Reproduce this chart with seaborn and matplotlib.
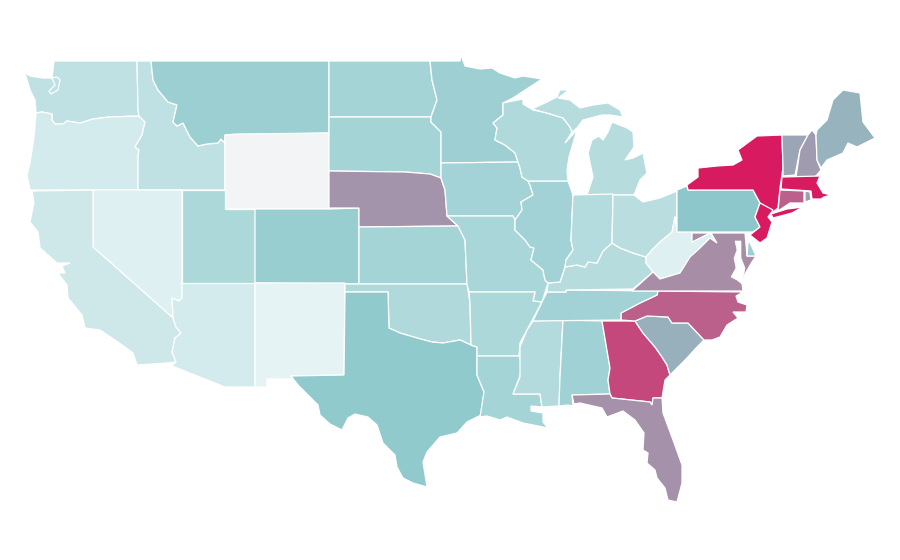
import matplotlib
matplotlib.use("Agg")
import matplotlib.pyplot as plt
from matplotlib.colors import Normalize
from matplotlib.patches import Polygon
import seaborn as sns

# state outlines, x/y in image pixels
WA = [(54,61),(137,61),(138,110),(139,116),(109,117),(93,119),(80,123),(67,121),(63,124),(55,124),(52,120),(52,114),(42,112),(36,113),(35,100),(30,90),(25,73),(30,76),(43,78),(52,78),(57,77),(60,80),(58,90),(51,94),(49,91),(55,85),(52,78)]
OR = [(36,113),(42,112),(52,114),(52,120),(55,124),(63,124),(67,121),(80,123),(93,119),(109,117),(139,116),(145,122),(142,135),(135,147),(139,150),(138,157),(138,190),(30,190),(27,175),(30,163),(34,137)]
ID = [(137,61),(151,61),(153,80),(158,90),(168,102),(177,105),(173,122),(177,126),(183,123),(190,137),(198,146),(207,144),(218,143),(221,139),(225,143),(225,190),(138,190),(138,157),(139,150),(135,147),(142,135),(145,122),(139,116),(138,110)]
MT = [(151,61),(329,61),(329,133),(236,135),(225,135),(225,143),(221,139),(218,143),(207,144),(198,146),(190,137),(183,123),(177,126),(173,122),(177,105),(168,102),(158,90),(153,80)]
WY = [(225,135),(236,134),(329,133),(329,209),(225,209)]
NV = [(93,190),(182,190),(182,298),(179,301),(172,298),(173,318),(93,247)]
CA = [(32,191),(93,190),(93,247),(173,318),(176,327),(181,333),(175,338),(172,352),(176,362),(167,363),(137,365),(133,353),(118,342),(100,330),(85,328),(82,315),(68,298),(67,285),(58,273),(65,273),(62,266),(70,263),(57,263),(40,248),(38,232),(30,222),(34,203)]
AZ = [(182,283),(255,283),(255,387),(225,387),(172,366),(176,362),(172,352),(175,338),(181,333),(176,327),(173,318),(172,298),(179,301),(182,298)]
UT = [(182,190),(225,190),(225,209),(255,209),(255,283),(182,283)]
CO = [(255,209),(329,209),(359,208),(359,284),(255,283)]
NM = [(255,283),(345,283),(344,375),(291,376),(293,379),(267,379),(267,387),(255,387)]
ND = [(329,61),(430,61),(432,80),(437,100),(431,117),(329,117)]
SD = [(329,117),(431,117),(431,122),(441,132),(441,178),(430,174),(405,172),(329,171)]
NE = [(329,171),(405,172),(430,174),(441,178),(445,190),(447,216),(458,226),(359,227),(359,208),(329,208)]
KS = [(359,227),(458,226),(465,240),(467,284),(359,284)]
OK = [(345,284),(467,284),(470,303),(471,345),(460,340),(443,343),(432,342),(417,338),(400,333),(389,328),(388,292),(345,292)]
TX = [(345,292),(388,292),(389,328),(400,333),(417,338),(432,342),(443,343),(460,340),(471,345),(477,347),(477,375),(484,392),(481,415),(467,422),(457,433),(440,437),(427,452),(423,462),(427,487),(413,483),(403,478),(397,467),(395,455),(383,443),(377,425),(368,417),(355,414),(348,418),(342,430),(330,424),(320,415),(318,405),(308,395),(298,385),(291,376),(344,375)]
MN = [(430,61),(460,61),(461,55),(465,66),(480,69),(492,68),(500,73),(515,78),(523,76),(542,79),(513,98),(503,103),(503,115),(493,123),(497,128),(495,140),(505,145),(515,153),(518,162),(441,163),(441,132),(431,122),(431,117),(437,100),(432,80)]
IA = [(441,163),(518,162),(520,168),(522,177),(528,181),(530,185),(533,195),(521,202),(522,210),(515,220),(513,216),(447,216),(445,190),(441,178)]
MO = [(447,216),(513,216),(515,220),(515,230),(525,240),(530,247),(534,248),(531,260),(543,270),(545,280),(548,283),(542,302),(533,301),(535,292),(469,292),(467,284),(465,240),(458,226)]
AR = [(469,292),(535,292),(533,301),(542,302),(535,315),(527,330),(520,343),(519,356),(477,356),(477,347),(471,345),(470,303)]
LA = [(477,356),(519,356),(523,368),(513,394),(540,394),(542,407),(531,406),(531,411),(543,413),(543,422),(548,428),(533,425),(523,423),(507,417),(500,420),(487,416),(480,417),(484,392),(477,375)]
MS = [(533,321),(563,320),(560,377),(559,406),(542,407),(540,394),(513,394),(520,377),(520,347),(527,330)]
AL = [(563,320),(602,321),(610,368),(608,380),(610,394),(572,395),(573,406),(568,405),(559,406),(560,377)]
GA = [(602,321),(635,321),(643,333),(655,347),(662,357),(667,365),(670,375),(665,380),(662,398),(653,398),(652,405),(650,402),(612,398),(610,394),(608,380),(610,368)]
FL = [(572,395),(610,394),(612,398),(650,402),(652,405),(653,398),(662,398),(663,413),(673,440),(682,465),(682,483),(677,502),(668,500),(665,488),(657,478),(655,470),(647,463),(648,453),(643,450),(644,433),(635,420),(623,411),(607,417),(602,408),(580,403),(574,404)]
SC = [(635,321),(647,316),(668,317),(672,323),(688,323),(704,340),(697,347),(687,358),(670,375),(667,365),(662,357),(655,347),(643,333)]
NC = [(658,291),(743,292),(736,296),(738,302),(747,305),(746,312),(733,312),(738,318),(727,325),(720,337),(712,340),(704,340),(688,323),(672,323),(668,317),(647,316),(635,321),(621,320),(621,313),(640,303),(657,295)]
TN = [(566,290),(658,291),(657,295),(640,303),(621,313),(621,320),(533,321),(542,302),(547,292),(566,292)]
KY = [(565,267),(577,265),(585,267),(588,262),(597,263),(603,251),(612,243),(620,248),(633,253),(646,257),(646,263),(653,272),(633,289),(566,290),(566,292),(547,292),(548,283),(560,282),(563,273)]
IL = [(528,181),(568,181),(573,195),(571,240),(573,250),(566,260),(565,267),(563,273),(560,282),(548,283),(545,280),(543,270),(531,260),(534,248),(530,247),(525,240),(515,230),(515,220),(522,210),(521,202),(533,195),(530,185)]
WI = [(503,103),(523,99),(523,104),(533,110),(547,113),(563,118),(570,127),(572,132),(565,143),(577,130),(569,157),(567,170),(568,181),(528,181),(522,177),(520,168),(518,162),(515,153),(505,145),(495,140),(497,128),(493,123),(503,115)]
MI_UP = [(532,109),(547,102),(557,97),(560,90),(569,90),(558,98),(570,100),(580,108),(593,105),(608,103),(620,110),(623,117),(610,115),(602,115),(583,120),(577,128),(572,132),(570,127),(563,118),(547,113)]
MI_LP = [(603,140),(608,132),(612,122),(627,128),(633,132),(634,147),(625,160),(633,158),(643,153),(647,173),(640,180),(634,195),(587,195),(593,177),(588,153),(592,140),(599,136)]
IN = [(573,195),(613,194),(612,243),(603,251),(597,263),(588,262),(585,267),(577,265),(565,267),(566,260),(573,250),(571,240)]
OH = [(613,195),(634,195),(643,202),(660,198),(677,191),(677,217),(675,217),(672,232),(660,242),(652,250),(646,257),(633,253),(620,248),(612,243)]
WV = [(675,217),(677,232),(692,232),(692,242),(710,233),(717,243),(710,238),(700,248),(690,257),(680,273),(660,279),(653,272),(646,263),(646,257),(652,250),(660,242),(672,232)]
VA_MD = [(632,291),(743,291),(742,283),(745,274),(752,262),(756,256),(747,256),(745,233),(711,233),(717,243),(710,238),(700,248),(690,257),(680,273),(660,279),(653,272)]
MD_WEST = [(692,233),(710,233),(692,242)]
BAY = [(735,241),(741,241),(741,258),(745,268),(742,284),(737,280),(731,277),(736,268),(734,258),(737,250)]
DE = [(749,231),(747,237),(752,247),(756,256),(747,256)]
PA = [(677,190),(687,186),(688,190),(753,190),(760,203),(755,217),(760,227),(753,232),(677,232)]
NY = [(688,190),(687,185),(698,177),(698,168),(717,166),(733,165),(742,160),(738,150),(757,136),(782,135),(783,168),(780,188),(778,208),(773,212),(760,203),(753,190)]
LI = [(771,214),(787,209),(803,207),(792,213),(773,218)]
NJ = [(760,203),(773,210),(768,217),(772,222),(767,238),(760,243),(750,235),(760,227),(755,217)]
VT = [(782,135),(808,135),(800,150),(795,175),(783,176),(783,168)]
NH = [(812,130),(816,135),(817,160),(821,170),(815,177),(796,177),(800,150),(808,135)]
ME = [(817,130),(827,120),(833,100),(843,90),(860,93),(863,122),(875,138),(857,147),(848,143),(843,153),(827,160),(821,168),(817,160),(816,135)]
MA = [(782,177),(820,176),(817,183),(823,193),(831,195),(824,197),(821,199),(812,199),(811,191),(781,189)]
CT = [(780,190),(804,191),(804,203),(790,203),(778,211)]
RI = [(805,191),(810,192),(811,200),(805,202)]

# value per state, 0 = palest teal, 50 = teal, 100 = pink, below 0 = the grey state
state_values = [
    (WA, 23), (OR, 12), (ID, 23), (MT, 42), (WY, -1), (NV, 7), (CA, 15), (AZ, 12),
    (UT, 33), (CO, 44), (NM, 3), (ND, 37), (SD, 37), (NE, 65), (KS, 37), (OK, 32),
    (TX, 48), (MN, 41), (IA, 38), (MO, 35), (AR, 33), (LA, 37), (MS, 30), (AL, 40),
    (GA, 87), (FL, 66), (SC, 57), (NC, 80), (TN, 39), (KY, 28), (IL, 39), (WI, 32),
    (MI_UP, 28), (MI_LP, 28), (IN, 29), (OH, 26), (WV, 7), (VA_MD, 67), (MD_WEST, 67),
    (DE, 42), (PA, 50), (NY, 100), (LI, 100), (NJ, 100), (VT, 60), (NH, 63), (ME, 56),
    (MA, 100), (CT, 80), (RI, 62),
]

sns.set_style("white")
cmap = sns.blend_palette(["#eaf6f7", "#8dc8cb", "#d81b60"], as_cmap=True)
cmap.set_under("#f3f4f6")
norm = Normalize(0, 100)

fig, ax = plt.subplots(figsize=(9, 5.6), dpi=100)
fig.subplots_adjust(0, 0, 1, 1)
for outline, value in state_values:
    ax.add_patch(Polygon(outline, closed=True, facecolor=cmap(norm(value)), edgecolor="white", linewidth=0.9))
ax.add_patch(Polygon(BAY, closed=True, facecolor="white", edgecolor="white", linewidth=0.5))
ax.set_xlim(0, 900)
ax.set_ylim(560, 0)
ax.axis("off")
fig.savefig("out.png", dpi=100)
